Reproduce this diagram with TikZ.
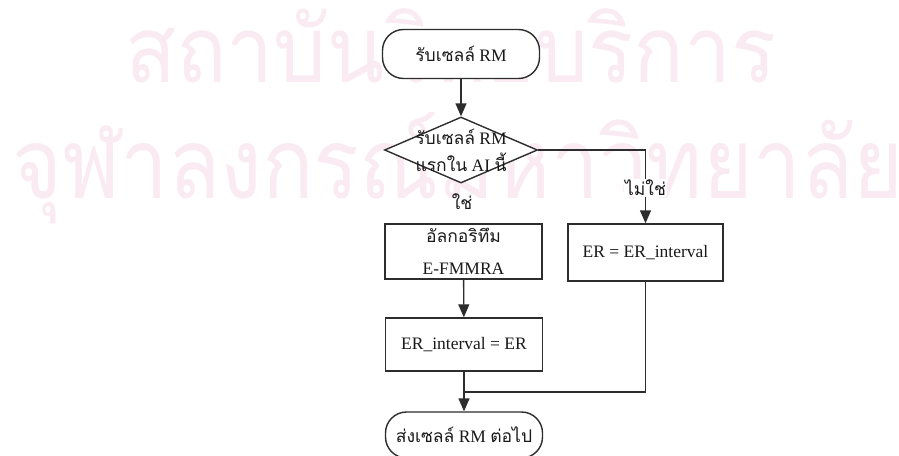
\documentclass[tikz,border=0pt]{standalone}
\usepackage{fontspec}
\setmainfont{Liberation Serif}
\newfontfamily\thai[Script=Thai]{Loma}
\usetikzlibrary{arrows.meta,shapes.geometric}
\definecolor{wmpink}{RGB}{250,235,242}
\definecolor{ink}{RGB}{45,45,45}
\tikzset{
  flow/.style={draw=ink, line width=1.4pt},
  arr/.style={flow, -{Triangle[length=13pt,width=11pt]}},
  boxtext/.style={text=black!90, font=\fontsize{17.5}{32}\selectfont},
  terminal/.style={boxtext, draw=ink, line width=1.4pt, fill=white, rounded corners=21pt,
    minimum width=157pt, minimum height=49pt, inner sep=0pt},
  process/.style={boxtext, draw=ink, line width=1.4pt, fill=white,
    minimum width=157pt, minimum height=55pt, inner sep=0pt, align=center},
  decision/.style={diamond, draw=ink, line width=1.4pt, fill=white,
    minimum width=153pt, minimum height=66pt, inner sep=0pt},
  flowlabel/.style={boxtext, font=\fontsize{17.5}{27}\selectfont, inner sep=1pt, align=center},
  watermark/.style={text=wmpink, inner sep=0pt, anchor=base west}
}
\begin{document}
\begin{tikzpicture}[x=1pt,y=-1pt]
  \fill[white] (0,0) rectangle (899,455);
  \useasboundingbox (0,0) rectangle (899,455);

  % faint institutional watermark behind the chart
  \node[watermark, font=\thai\fontsize{92}{92}\selectfont] (wmtop) at (125,82)
    {\scalebox{0.91}[1]{สถาบันวิทยบริการ}};
  \node[watermark, font=\thai\fontsize{98}{98}\selectfont] (wmbot) at (12,198)
    {\scalebox{0.87}[1]{จุฬาลงกรณ์มหาวิทยาลัย}};

  % flowchart nodes
  \node[terminal] (start) at (461,54) {{\thai รับเซลล์} RM};
  \node[decision] (q) at (461,150) {};
  \node[flowlabel] (qtext) at (q.center) {{\thai รับเซลล์} RM\\{\thai แรกใน} AI {\thai นี้}};
  \node[process] (algo) at (463.5,251.5) {{\thai อัลกอริทึม}\\E-FMMRA};
  \node[process, minimum height=53pt] (upd) at (464,344.5) {ER\_interval = ER};
  \node[process, minimum width=155pt, minimum height=57pt] (keep) at (645.5,252.5) {ER = ER\_interval};
  \node[terminal, minimum height=46pt] (stop) at (464,435) {{\thai ส่งเซลล์} RM {\thai ต่อไป}};
  \coordinate (join) at (464,392);

  % connectors
  \draw[arr] (start) -- (q);
  \path (q.south) -- node[flowlabel, pos=0.45] (yes) {\thai ใช่} (algo.north);
  \draw[arr] (q.east) -| node[flowlabel, fill=white, pos=0.76] (no) {\thai ไม่ใช่} (keep.north);
  \draw[arr] (algo) -- (upd);
  \draw[flow] (upd.south) -- (join);
  \draw[flow] (keep.south) |- (join);
  \draw[arr] (join) -- (stop.north);
\end{tikzpicture}
\end{document}
